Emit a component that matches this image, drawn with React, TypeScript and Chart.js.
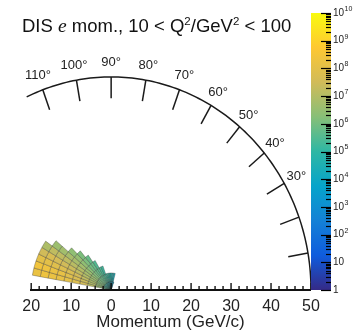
import React, { useEffect, useRef } from "react";
import { Chart, registerables } from "chart.js";

Chart.register(...registerables);

// ---------- axis / layout values ----------
const X_MIN = -20.3;
const X_MAX = 50;
const Y_MAX = 65;
const X_TICK_VALUES = [-20, -10, 0, 10, 20, 30, 40, 50];
const X_MINOR_VALUES = [-20, -18, -16, -14, -12, -10, -8, -6, -4, -2, 0, 2, 4, 6, 8, 10, 12, 14, 16, 18, 20, 22, 24, 26, 28, 30, 32, 34, 36, 38, 40, 42, 44, 46, 48, 50];
const X_TITLE = "Momentum (GeV/c)";

const ARC_RADIUS = 50;
const ARC_END_DEG = 115;
const ANGLE_TICKS_DEG = [10, 20, 30, 40, 50, 60, 70, 80, 90, 100, 110];
const ANGLE_LABELS_DEG = [30, 40, 50, 60, 70, 80, 90, 100, 110];

const CB_MIN = 1;
const CB_MAX = 1e10;
const CB_DECADES = [0, 1, 2, 3, 4, 5, 6, 7, 8, 9, 10];

const TITLE_PARTS = ["DIS ", "e", " mom., 10 < Q", "2", "/GeV", "2", " < 100"];

// ---------- histogram data ----------
// momentum bin edges (GeV/c)
const MOMENTUM_EDGES = [0, 2, 4, 6, 8, 10, 12, 14, 16, 18, 20];
// polar-angle bins (deg): first entry of each list is the 165-170 bin, then upward in 5 deg steps
const ANGLE_TOP_DEG = 170;
const ANGLE_BIN_DEG = 5;
// log10(counts) per momentum bin
const LOG_COUNTS_P00_02 = [5.6, 5.5, 5.4, 5.3, 5.2, 5.1, 5.0, 4.9, 4.8, 4.7, 4.6, 4.5, 4.4, 4.3, 4.2, 4.1, 4.0, 3.9, 3.8, 3.7];
const LOG_COUNTS_P02_04 = [6.6, 6.5, 6.4, 6.3, 6.2, 6.1, 6.0, 5.9, 5.8, 5.6, 5.5, 5.4, 5.2, 5.1, 5.0, 4.8, 4.7, 4.5, 4.3];
const LOG_COUNTS_P04_06 = [7.1, 7.0, 6.9, 6.7, 6.6, 6.4, 6.2, 6.0, 5.8, 5.6, 5.4, 5.2];
const LOG_COUNTS_P06_08 = [7.5, 7.4, 7.2, 7.0, 6.8, 6.6, 6.3, 6.0, 5.8, 5.5];
const LOG_COUNTS_P08_10 = [7.8, 7.7, 7.5, 7.2, 7.0, 6.7, 6.4, 6.1, 5.8];
const LOG_COUNTS_P10_12 = [8.0, 7.9, 7.7, 7.4, 7.1, 6.8, 6.5, 6.1];
const LOG_COUNTS_P12_14 = [8.1, 8.1, 7.8, 7.5, 7.2, 6.8, 6.4];
const LOG_COUNTS_P14_16 = [8.2, 8.2, 7.9, 7.6, 7.2, 6.7];
const LOG_COUNTS_P16_18 = [8.3, 8.3, 8.0, 7.7, 7.2, 6.6];
const LOG_COUNTS_P18_20 = [8.2, 8.4, 8.0, 7.5, 6.9];
const LOG_COUNTS = [
  LOG_COUNTS_P00_02,
  LOG_COUNTS_P02_04,
  LOG_COUNTS_P04_06,
  LOG_COUNTS_P06_08,
  LOG_COUNTS_P08_10,
  LOG_COUNTS_P10_12,
  LOG_COUNTS_P12_14,
  LOG_COUNTS_P14_16,
  LOG_COUNTS_P16_18,
  LOG_COUNTS_P18_20,
];

// parula-like colour map
const PARULA = ["#352a87", "#0f5cdd", "#1481d6", "#06a4ca", "#2eb7a4", "#87bf77", "#d1bb59", "#fec832", "#f9fb0e"];

const SANS = '"Liberation Sans", Arial, Helvetica, sans-serif';
const SERIF = '"Liberation Serif", "Times New Roman", serif';
const TEXT_COLOR = "#222";

function hexToRgb(h: string) {
  const n = parseInt(h.slice(1), 16);
  return [(n >> 16) & 255, (n >> 8) & 255, n & 255];
}
function parula(t: number) {
  const tt = Math.max(0, Math.min(1, t));
  const s = tt * (PARULA.length - 1);
  const i = Math.min(PARULA.length - 2, Math.floor(s));
  const f = s - i;
  const a = hexToRgb(PARULA[i]);
  const b = hexToRgb(PARULA[i + 1]);
  const c = a.map((v, k) => Math.round(v + (b[k] - v) * f));
  return `rgb(${c[0]},${c[1]},${c[2]})`;
}

const DEG = Math.PI / 180;

const polarPlugin = {
  id: "polarDecor",
  afterDraw(chart: any) {
    const { ctx, chartArea, scales } = chart;
    const xs = scales.x;
    const ys = scales.y;
    const cb = scales.cb;
    const P = (r: number, d: number): [number, number] => [
      xs.getPixelForValue(r * Math.cos(d * DEG)),
      ys.getPixelForValue(r * Math.sin(d * DEG)),
    ];
    ctx.save();

    // ---- histogram cells ----
    LOG_COUNTS.forEach((vals, i) => {
      const r0 = MOMENTUM_EDGES[i];
      const r1 = MOMENTUM_EDGES[i + 1];
      vals.forEach((v, j) => {
        const dHi = ANGLE_TOP_DEG - j * ANGLE_BIN_DEG;
        const dLo = dHi - ANGLE_BIN_DEG;
        const n = 6;
        ctx.beginPath();
        for (let k = 0; k <= n; k++) {
          const [x, y] = P(r1, dLo + ((dHi - dLo) * k) / n);
          if (k === 0) ctx.moveTo(x, y);
          else ctx.lineTo(x, y);
        }
        for (let k = n; k >= 0; k--) {
          const [x, y] = P(r0, dLo + ((dHi - dLo) * k) / n);
          ctx.lineTo(x, y);
        }
        ctx.closePath();
        ctx.fillStyle = parula(v / 10);
        ctx.fill();
        ctx.strokeStyle = "rgba(45,45,45,0.65)";
        ctx.lineWidth = 0.5;
        ctx.stroke();
      });
    });

    // ---- x axis line and ticks ----
    const yb = chartArea.bottom;
    ctx.strokeStyle = "#111";
    ctx.lineWidth = 2;
    ctx.beginPath();
    ctx.moveTo(chartArea.left, yb);
    ctx.lineTo(chartArea.right, yb);
    ctx.stroke();
    ctx.lineWidth = 1.4;
    X_MINOR_VALUES.forEach((v) => {
      const x = xs.getPixelForValue(v);
      const len = X_TICK_VALUES.includes(v) ? 7 : 4;
      ctx.beginPath();
      ctx.moveTo(x, yb);
      ctx.lineTo(x, yb - len);
      ctx.stroke();
    });

    // ---- angle arc ----
    ctx.strokeStyle = "#1a1a1a";
    ctx.lineWidth = 1.5;
    ctx.beginPath();
    for (let d = 0; d <= ARC_END_DEG; d += 1) {
      const [x, y] = P(ARC_RADIUS, d);
      if (d === 0) ctx.moveTo(x, y);
      else ctx.lineTo(x, y);
    }
    ctx.stroke();
    ANGLE_TICKS_DEG.forEach((d) => {
      const [x0, y0] = P(ARC_RADIUS, d);
      const [x1, y1] = P(ARC_RADIUS - 5, d);
      ctx.beginPath();
      ctx.moveTo(x0, y0);
      ctx.lineTo(x1, y1);
      ctx.stroke();
    });
    ctx.fillStyle = TEXT_COLOR;
    ctx.font = `13px ${SANS}`;
    ctx.textAlign = "center";
    ctx.textBaseline = "middle";
    ANGLE_LABELS_DEG.forEach((d) => {
      const [x, y] = P(ARC_RADIUS + 3.5, d);
      ctx.fillText(`${d}°`, x, y);
    });

    // ---- colour bar ----
    const cx0 = chartArea.right;
    const cw = 20;
    const top = cb.getPixelForValue(CB_MAX);
    const bot = cb.getPixelForValue(CB_MIN);
    const grad = ctx.createLinearGradient(0, bot, 0, top);
    PARULA.forEach((c, i) => grad.addColorStop(i / (PARULA.length - 1), c));
    ctx.fillStyle = grad;
    ctx.fillRect(cx0, top, cw, bot - top);
    ctx.strokeStyle = "#000";
    ctx.lineWidth = 1.2;
    CB_DECADES.forEach((dec) => {
      const yMaj = Math.round(cb.getPixelForValue(Math.pow(10, dec))) + 0.5;
      ctx.beginPath();
      ctx.moveTo(cx0 + cw - 10, yMaj);
      ctx.lineTo(cx0 + cw, yMaj);
      ctx.stroke();
      if (dec < 10) {
        for (let m = 2; m <= 9; m++) {
          const ym = Math.round(cb.getPixelForValue(m * Math.pow(10, dec))) + 0.5;
          ctx.beginPath();
          ctx.moveTo(cx0 + cw - 5, ym);
          ctx.lineTo(cx0 + cw, ym);
          ctx.stroke();
        }
      }
    });
    ctx.fillStyle = TEXT_COLOR;
    ctx.textAlign = "left";
    ctx.textBaseline = "middle";
    CB_DECADES.forEach((dec) => {
      const y = cb.getPixelForValue(Math.pow(10, dec));
      const lx = cx0 + cw + 2;
      ctx.font = `10px ${SANS}`;
      if (dec === 0) {
        ctx.fillText("1", lx, y);
      } else {
        ctx.fillText("10", lx, y);
        if (dec > 1) {
          const w = ctx.measureText("10").width;
          ctx.font = `7px ${SANS}`;
          ctx.fillText(String(dec), lx + w + 0.5, y - 4);
        }
      }
    });

    // ---- title ----
    ctx.textAlign = "left";
    ctx.textBaseline = "alphabetic";
    ctx.fillStyle = "#111";
    let tx = 22;
    const base = 32;
    const fonts = [
      `18.5px ${SANS}`,
      `italic 19.5px ${SERIF}`,
      `18.5px ${SANS}`,
      `11.5px ${SANS}`,
      `18.5px ${SANS}`,
      `11.5px ${SANS}`,
      `18.5px ${SANS}`,
    ];
    const lifts = [0, 0, 0, -7, 0, -7, 0];
    TITLE_PARTS.forEach((t, i) => {
      ctx.font = fonts[i];
      ctx.fillText(t, tx, base + lifts[i]);
      tx += ctx.measureText(t).width;
    });

    ctx.restore();
  },
};

export default function App() {
  const ref = useRef<HTMLCanvasElement | null>(null);
  useEffect(() => {
    if (!ref.current) return;
    const chart = new Chart(ref.current, {
      type: "scatter",
      data: { datasets: [{ data: [], xAxisID: "x", yAxisID: "y" }] },
      options: {
        animation: false,
        responsive: false,
        devicePixelRatio: 1,
        layout: { padding: { left: 30, top: 13, right: 0, bottom: 0 } },
        plugins: { legend: { display: false }, tooltip: { enabled: false } },
        scales: {
          x: {
            type: "linear",
            position: "bottom",
            min: X_MIN,
            max: X_MAX,
            afterBuildTicks: (s: any) => {
              s.ticks = X_TICK_VALUES.map((v) => ({ value: v }));
            },
            afterFit: (s: any) => {
              s.height = 44;
            },
            grid: { display: false, drawTicks: false },
            border: { display: false },
            ticks: {
              autoSkip: false,
              maxRotation: 0,
              padding: 7,
              color: TEXT_COLOR,
              font: { family: SANS, size: 16 },
              callback: (v: any) => String(Math.abs(Number(v))),
            },
            title: {
              display: true,
              text: X_TITLE,
              color: TEXT_COLOR,
              font: { family: SANS, size: 17 },
              padding: { top: 0, bottom: 1 },
            },
          },
          y: {
            type: "linear",
            display: false,
            min: 0,
            max: Y_MAX,
          },
          cb: {
            type: "logarithmic",
            position: "right",
            min: CB_MIN,
            max: CB_MAX,
            afterFit: (s: any) => {
              s.width = 46;
            },
            grid: { display: false, drawTicks: false },
            border: { display: false },
            ticks: { display: false },
          },
        },
      },
      plugins: [polarPlugin],
    } as any);
    return () => chart.destroy();
  }, []);
  return (
    <div style={{ position: "absolute", left: 0, top: 0, width: 357, height: 334, background: "#fff" }}>
      <canvas ref={ref} width={357} height={334} />
    </div>
  );
}
